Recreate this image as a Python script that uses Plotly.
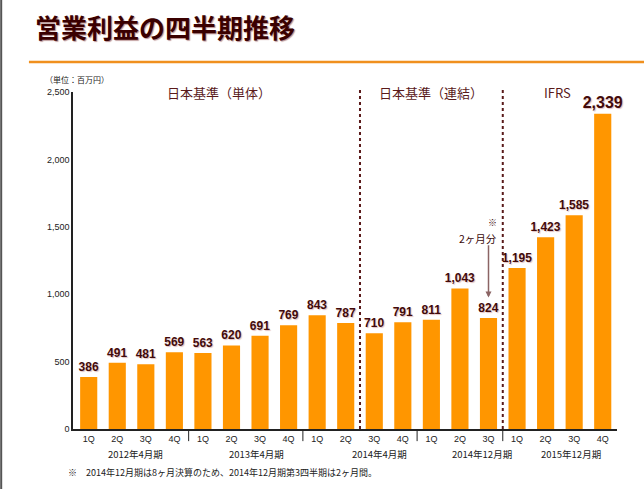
import plotly.graph_objects as go

# ---- data ----
quarters = ["1Q", "2Q", "3Q", "4Q", "1Q", "2Q", "3Q", "4Q", "1Q", "2Q", "3Q", "4Q",
            "1Q", "2Q", "3Q", "1Q", "2Q", "3Q", "4Q"]
profit = [386, 491, 481, 569, 563, 620, 691, 769, 843, 787, 710, 791,
          811, 1043, 824, 1195, 1423, 1585, 2339]
periods = ["2012年4月期", "2013年4月期", "2014年4月期", "2014年12月期", "2015年12月期"]
standards = ["日本基準（単体）", "日本基準（連結）", "IFRS"]
y_ticks = [0, 500, 1000, 1500, 2000, 2500]

JP = "Noto Sans CJK JP"
NUM = "Liberation Sans"
MAROON = "#420a0a"
ORANGE = "#FF9600"

xs = list(range(len(profit)))
labels = [f"{v:,}" for v in profit]
sizes = [12] * len(profit)
sizes[-1] = 16

fig = go.Figure()
fig.add_trace(go.Bar(
    x=xs, y=profit, marker=dict(color=ORANGE, line=dict(width=0)),
    text=labels, textposition="outside", constraintext="none", cliponaxis=False,
    textfont=dict(family=NUM, size=sizes, color=MAROON, weight="bold",
                  shadow="1px 1px 1px #e0c0c0"),
    width=0.6, hoverinfo="skip",
))

fig.update_layout(
    width=644, height=489,
    margin=dict(l=73, r=27, t=92, b=60),
    paper_bgcolor="white", plot_bgcolor="white",
    showlegend=False,
    xaxis=dict(range=[-0.55, 18.5], tickmode="array", tickvals=xs, ticktext=quarters,
               showline=True, linecolor="#222222", linewidth=1.5, ticks="", showgrid=False,
               zeroline=False, tickfont=dict(family=NUM, size=9, color="#222222")),
    yaxis=dict(range=[0, 2500], tickmode="array", tickvals=y_ticks, tickformat=",",
               showline=True, linecolor="#222222", linewidth=1.5, ticks="", showgrid=False,
               zeroline=False, tickfont=dict(family=NUM, size=9, color="#222222")),
)

shapes = []
# left slide border
shapes.append(dict(type="line", xref="paper", yref="paper", x0=-0.132, x1=-0.132,
                   y0=-0.2, y1=1.3, line=dict(color="#555555", width=2)))
# orange rule under title
shapes.append(dict(type="line", xref="paper", yref="paper", x0=-0.081, x1=1.06,
                   y0=1.089, y1=1.089, line=dict(color="#F0901E", width=2.5)))
# dotted standard dividers
for xv in [9.5, 14.5]:
    shapes.append(dict(type="line", xref="x", yref="paper", x0=xv, x1=xv, y0=0, y1=1.012,
                       line=dict(color="#5a1a1a", width=2, dash="dot")))
# group tick dividers below axis
for xv in [3.5, 7.5, 11.5, 14.5]:
    shapes.append(dict(type="line", xref="x", yref="paper", x0=xv, x1=xv, y0=0, y1=-0.036,
                       line=dict(color="#222222", width=1)))
fig.update_layout(shapes=shapes)

ann = []
ann.append(dict(text="営業利益の四半期推移", xref="paper", yref="paper", x=-0.074, y=1.195,
                xanchor="left", yanchor="middle", showarrow=False,
                font=dict(family=JP, size=26, color="#3a0000", weight="bold",
                          shadow="1px 1px 1px #b89090")))
ann.append(dict(text="（単位：百万円）", xref="paper", yref="paper", x=0.008, y=1.036,
                xanchor="center", yanchor="middle", showarrow=False,
                font=dict(family=JP, size=8, color="#222222")))
for txt, xv in zip(standards, [4.57, 11.98, 16.42]):
    ann.append(dict(text=txt, xref="x", yref="paper", x=xv, y=1.0, xanchor="center",
                    yanchor="middle", showarrow=False,
                    font=dict(family=JP, size=13, color="#5a1a1a")))
for txt, xv in zip(periods, [1.63, 5.86, 10.18, 13.77, 16.88]):
    ann.append(dict(text=txt, xref="x", yref="paper", x=xv, y=-0.074, xanchor="center",
                    yanchor="middle", showarrow=False,
                    font=dict(family=JP, size=9.5, color="#222222")))
ann.append(dict(text="※　2014年12月期は8ヶ月決算のため、2014年12月期第3四半期は2ヶ月間。",
                xref="paper", yref="paper", x=-0.013, y=-0.13, xanchor="left",
                yanchor="middle", showarrow=False,
                font=dict(family=JP, size=9, color="#222222")))
# arrow note for 2-month quarter
ann.append(dict(text="", x=14, y=975, ax=14, ay=1375, xref="x", yref="y",
                axref="x", ayref="y", showarrow=True, arrowhead=2, arrowsize=0.8,
                arrowwidth=1.5, arrowcolor="#8b6464"))
ann.append(dict(text="2ヶ月分", x=13.63, y=1415, xref="x", yref="y", xanchor="center",
                yanchor="middle", showarrow=False,
                font=dict(family=JP, size=10.5, color="#3a0a0a")))
ann.append(dict(text="※", x=14.14, y=1535, xref="x", yref="y", xanchor="center",
                yanchor="middle", showarrow=False,
                font=dict(family=JP, size=9, color="#3a0a0a")))
fig.update_layout(annotations=ann)

fig.write_html("out.html", config={"displayModeBar": False},
               post_script="document.body.style.margin='0px';")
